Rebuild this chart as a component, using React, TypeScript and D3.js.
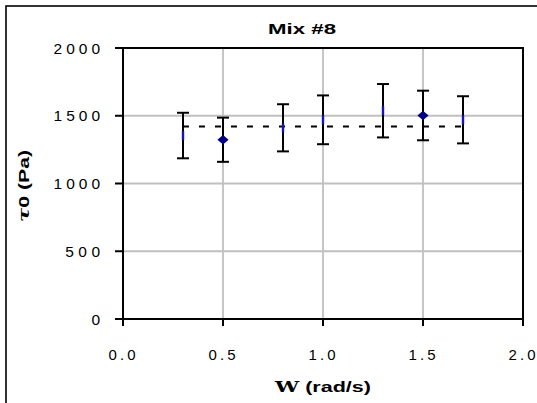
import React from "react";
import * as d3 from "d3";

const xValues = [0.3, 0.5, 0.8, 1.0, 1.3, 1.5, 1.7];
const yValues = [1354, 1323, 1411, 1470, 1537, 1502, 1470];
const yErrors = [168, 163, 174, 180, 197, 183, 174];
const markerShapes = ["bar", "diamond", "bar", "bar", "bar", "diamond", "bar"];
const refLineX = [0.3, 1.7];
const refLineY = [1420, 1420];
const xTicks = [0, 0.5, 1.0, 1.5, 2.0];
const yTicks = [0, 500, 1000, 1500, 2000];
const titleText = "Mix #8";

const W = 537;
const H = 403;
const M = { left: 123, right: 523, top: 48, bottom: 319 };

export default function App() {
  const x = d3.scaleLinear().domain([0, 2]).range([M.left, M.right]);
  const y = d3.scaleLinear().domain([0, 2000]).range([M.bottom, M.top]);
  const line = d3
    .line<number>()
    .x((_, i) => x(refLineX[i]))
    .y((d) => y(d));
  const diamond = d3.symbol().type(d3.symbolDiamond).size(55);
  const font = "'Liberation Sans', Arial, sans-serif";
  const navy = "#000080";
  const LA = "spacingAndGlyphs";

  return (
    <svg
      width={W}
      height={H}
      style={{ position: "absolute", left: 0, top: 0, background: "#fff" }}
    >
      <rect x={0} y={0} width={W} height={H} fill="#fff" />
      <rect x={6} y={6} width={600} height={430} fill="none" stroke="#000" strokeWidth={1.6} />
      {/* gridlines */}
      {yTicks.slice(1, -1).map((t) => (
        <line key={"gy" + t} x1={M.left} x2={M.right} y1={y(t)} y2={y(t)} stroke="#c0c0c0" strokeWidth={1.8} />
      ))}
      {xTicks.slice(1, -1).map((t) => (
        <line key={"gx" + t} x1={x(t)} x2={x(t)} y1={M.top} y2={M.bottom} stroke="#c0c0c0" strokeWidth={1.8} />
      ))}
      {/* plot border */}
      <rect x={M.left} y={M.top} width={M.right - M.left} height={M.bottom - M.top} fill="none" stroke="#000" strokeWidth={2} />
      {/* ticks */}
      {yTicks.map((t) => {
        const s = String(t);
        return (
          <g key={"ty" + t}>
            <line x1={M.left - 8} x2={M.left} y1={y(t)} y2={y(t)} stroke="#000" strokeWidth={2} />
            <text
              x={100}
              y={y(t)}
              dy="0.36em"
              textAnchor="end"
              fontFamily={font}
              fontSize={15.5}
              textLength={s.length > 1 ? s.length * 11.6 : undefined}
            >
              {s}
            </text>
          </g>
        );
      })}
      {xTicks.map((t) => (
        <g key={"tx" + t}>
          <line x1={x(t)} x2={x(t)} y1={M.bottom} y2={M.bottom + 7} stroke="#000" strokeWidth={2} />
          <text x={x(t) - 1} y={M.bottom + 41} textAnchor="middle" fontFamily={font} fontSize={15} textLength={27}>
            {t.toFixed(1)}
          </text>
        </g>
      ))}
      {/* reference dashed line */}
      <path d={line(refLineY) || ""} fill="none" stroke="#000" strokeWidth={2} strokeDasharray="6,10" />
      {/* error bars */}
      {xValues.map((xv, i) => {
        const cx = x(xv);
        const top = y(yValues[i] + yErrors[i]);
        const bot = y(yValues[i] - yErrors[i]);
        return (
          <g key={"e" + i} stroke="#000" strokeWidth={2}>
            <line x1={cx} x2={cx} y1={top} y2={bot} />
            <line x1={cx - 6} x2={cx + 6} y1={top} y2={top} />
            <line x1={cx - 6} x2={cx + 6} y1={bot} y2={bot} />
          </g>
        );
      })}
      {/* markers */}
      {xValues.map((xv, i) =>
        markerShapes[i] === "diamond" ? (
          <path key={"m" + i} d={diamond() || ""} transform={`translate(${x(xv)},${y(yValues[i])}) scale(1.4,0.68)`} fill={navy} />
        ) : (
          <rect key={"m" + i} x={x(xv) - 1.2} y={y(yValues[i]) - 4.5} width={2.4} height={9} fill="#1414b4" />
        )
      )}
      {/* titles */}
      <text x={302} y={34} textAnchor="middle" fontFamily={font} fontWeight="bold" fontSize={15} textLength={68} lengthAdjust={LA}>
        {titleText}
      </text>
      <text x={(M.left + M.right) / 2} y={392} textAnchor="middle" fontFamily={font} fontWeight="bold" fontSize={15.5} textLength={96} lengthAdjust={LA}>
        <tspan fontFamily="'DejaVu Serif', serif" fontWeight="bold">W</tspan>
        <tspan> (rad/s)</tspan>
      </text>
      <text
        transform={`translate(29,186) rotate(-90)`}
        textAnchor="middle"
        fontFamily={font}
        fontWeight="bold"
        fontSize={15}
        textLength={72}
        lengthAdjust={LA}
      >
        <tspan fontFamily="'DejaVu Serif', serif" fontStyle="italic">τ</tspan>
        <tspan>0 (Pa)</tspan>
      </text>
    </svg>
  );
}
